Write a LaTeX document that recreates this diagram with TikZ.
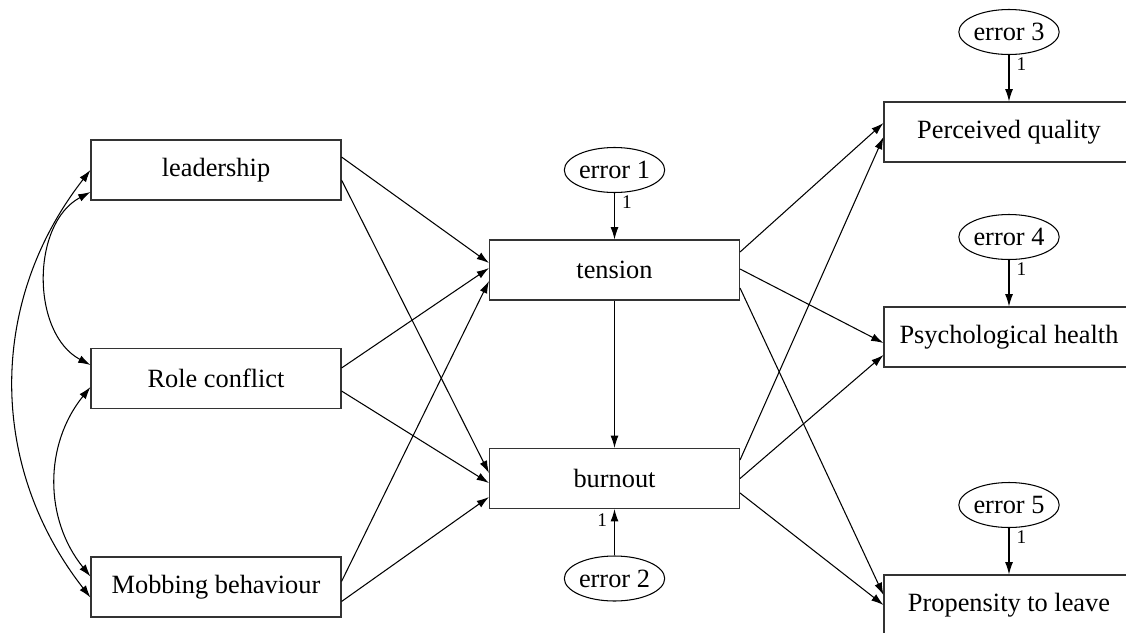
\documentclass[tikz,border=0pt]{standalone}
\usepackage{fontspec}
\setmainfont{Liberation Serif}
\usetikzlibrary{arrows.meta}
\usetikzlibrary{shapes.geometric}

\begin{document}
\begin{tikzpicture}[->,>={Latex[length=7pt,width=4.5pt]},semithick,node distance=4.17cm,font=\fontsize{15}{18}\selectfont]
	\tikzstyle{var}=[draw=black!80,rectangle,minimum width=5cm,minimum height=1.2cm,inner sep=0pt]
	\tikzstyle{err}=[draw,ellipse,minimum width=1.8cm,minimum height=0.9cm,inner sep=0pt,node distance=2cm]
	\tikzstyle{one}=[font=\fontsize{11}{13}\selectfont,inner sep=4pt]
	
	\useasboundingbox (0,0) rectangle (22.52,-12.64);
	\clip (0,0) rectangle (22.52,-12.64);
	
	\node[var] (lead)  at (4.32,-3.4)                 {leadership};
	\node[var] (role)  [below of=lead]                {Role conflict};
	\node[var] (mob)   [below of=role]                {Mobbing behaviour};
	\node[var] (ten)   at (12.29,-5.4)                {tension};
	\node[var] (burn)  [below of=ten]                 {burnout};
	\node[var] (pq)    at (20.18,-2.64)               {Perceived quality};
	\node[var] (ph)    [below of=pq,node distance=4.1cm]  {Psychological health};
	\node[var] (pl)    [below of=ph,node distance=5.36cm] {Propensity to leave};
	
	\node[err] (e1) [above of=ten]  {error 1};
	\node[err] (e2) [below of=burn] {error 2};
	\node[err] (e3) [above of=pq]   {error 3};
	\node[err] (e4) [above of=ph]   {error 4};
	\node[err] (e5) [above of=pl]   {error 5};
	
	\path ([yshift=.26cm]lead.east)  edge ([yshift=.14cm]ten.west);
	\path ([yshift=-.2cm]lead.east)  edge ([yshift=.11cm]burn.west);
	\path ([yshift=.21cm]role.east)  edge ([yshift=.04cm]ten.west);
	\path ([yshift=-.25cm]role.east) edge ([yshift=-.09cm]burn.west);
	\path ([yshift=.11cm]mob.east)   edge ([yshift=-.22cm]ten.west);
	\path ([yshift=-.29cm]mob.east)  edge ([yshift=-.37cm]burn.west);
	
	\path (ten) edge (burn);
	
	\path ([yshift=.36cm]ten.east)   edge ([yshift=.18cm]pq.west);
	\path ([yshift=.02cm]ten.east)   edge ([yshift=-.12cm]ph.west);
	\path ([yshift=-.36cm]ten.east)  edge ([yshift=.2cm]pl.west);
	\path ([yshift=.37cm]burn.east)  edge ([yshift=-.1cm]pq.west);
	\path (burn.east)                edge ([yshift=-.36cm]ph.west);
	\path ([yshift=-.29cm]burn.east) edge (pl.west);
	
	\path (e1) edge node[one,right,pos=.2] {1} (ten);
	\path (e2) edge node[one,left,pos=.77] {1} (burn);
	\path (e3) edge node[one,right,pos=.2] {1} (pq);
	\path (e4) edge node[one,right,pos=.2] {1} (ph);
	\path (e5) edge node[one,right,pos=.2] {1} (pl);
	
	\path (lead.west) edge [<->,bend right=38] ([yshift=-.21cm]mob.west);
	\path ([yshift=-.44cm]lead.west) edge [<->,bend right=62] ([yshift=.27cm]role.west);
	\path ([yshift=-.17cm]role.west) edge [<->,bend right=39] ([yshift=.21cm]mob.west);
\end{tikzpicture}
\end{document}
